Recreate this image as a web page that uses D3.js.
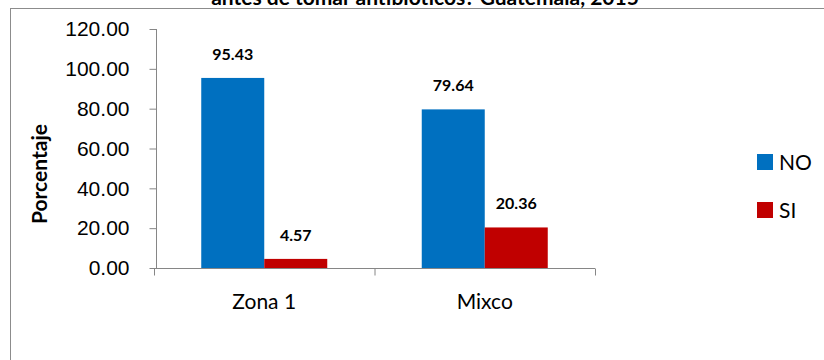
<!DOCTYPE html>
<html>
<head>
<meta charset="utf-8">
<script src="https://cdn.jsdelivr.net/npm/d3@7"></script>
<style>
  body { margin: 0; background: #fff; }
  svg { display: block; font-family: Lato, "Open Sans", sans-serif; }
</style>
</head>
<body>
<svg id="chart" width="824" height="360"></svg>
<script>
var categories = ["Zona 1", "Mixco"];
var series = ["NO", "SI"];
var noValues = [95.43, 79.64];
var siValues = [4.57, 20.36];
var yTicks = [0, 20, 40, 60, 80, 100, 120];
var title = "antes de tomar antibióticos? Guatemala, 2015";

var colors = { NO: "#0070C0", SI: "#C00000" };
var axisColor = "#868686";

var svg = d3.select("#chart");

// chart frame (runs off the right and bottom edges, as in the original)
svg.append("rect")
  .attr("x", 10.5).attr("y", 8.5)
  .attr("width", 900).attr("height", 400)
  .attr("fill", "none")
  .attr("stroke", "#8c8c8c");

// title is clipped by the top edge in the original too
svg.append("text")
  .attr("x", 425).attr("y", 5)
  .attr("text-anchor", "middle")
  .style("font-weight", "bold")
  .style("font-size", "21px")
  .text(title);

var x0 = d3.scaleBand().domain(categories).range([154, 595]);
var x1 = d3.scaleBand().domain(series).range([0, 126]);
var y = d3.scaleLinear().domain([0, 120]).range([268, 29]);

// y axis
var yAxis = svg.append("g")
  .attr("transform", "translate(156.5,0)")
  .call(d3.axisLeft(y).tickValues(yTicks).tickSize(7).tickPadding(20)
    .tickFormat(d3.format(".2f")));
yAxis.selectAll("path, line").attr("stroke", axisColor);
yAxis.selectAll("text").style("font-size", "21px").attr("fill", "#000");
yAxis.select(".domain").attr("d", "M0," + y(120) + "V" + y(0));

// x axis
var xAxis = svg.append("g")
  .attr("transform", "translate(0,268.5)");
xAxis.append("line")
  .attr("x1", 150).attr("x2", x0.range()[1])
  .attr("stroke", axisColor);
xAxis.selectAll(".xt")
  .data([x0.range()[0]].concat(categories.map(function (c) { return x0(c) + x0.bandwidth(); })))
  .enter().append("line")
  .attr("x1", function (d) { return d + 0.5; })
  .attr("x2", function (d) { return d + 0.5; })
  .attr("y1", 0).attr("y2", 7)
  .attr("stroke", axisColor);
xAxis.selectAll(".xl")
  .data(categories)
  .enter().append("text")
  .attr("x", function (d) { return x0(d) + x0.bandwidth() / 2; })
  .attr("y", 40)
  .attr("text-anchor", "middle")
  .style("font-size", "21px")
  .text(function (d) { return d; });

// bars
var rows = categories.map(function (c, i) {
  return { cat: c, vals: [{ s: "NO", v: noValues[i] }, { s: "SI", v: siValues[i] }] };
});

var groups = svg.selectAll(".grp")
  .data(rows)
  .enter().append("g")
  .attr("transform", function (d) {
    return "translate(" + (x0(d.cat) + (x0.bandwidth() - 126) / 2) + ",0)";
  });

groups.selectAll("rect")
  .data(function (d) { return d.vals; })
  .enter().append("rect")
  .attr("x", function (d) { return x1(d.s); })
  .attr("width", x1.bandwidth())
  .attr("y", function (d) { return y(d.v); })
  .attr("height", function (d) { return y(0) - y(d.v); })
  .attr("fill", function (d) { return colors[d.s]; });

groups.selectAll(".lbl")
  .data(function (d) { return d.vals; })
  .enter().append("text")
  .attr("x", function (d) { return x1(d.s) + x1.bandwidth() / 2; })
  .attr("y", function (d) { return y(d.v) - 18; })
  .attr("text-anchor", "middle")
  .style("font-weight", "bold")
  .style("font-size", "16px")
  .text(function (d) { return d3.format(".2f")(d.v); });

// y title
svg.append("text")
  .attr("transform", "translate(47,174) rotate(-90)")
  .attr("text-anchor", "middle")
  .style("font-weight", "bold")
  .style("font-size", "21px")
  .text("Porcentaje");

// legend
var legend = svg.selectAll(".leg")
  .data(series)
  .enter().append("g")
  .attr("transform", function (d, i) { return "translate(757," + (154 + i * 48) + ")"; });
legend.append("rect")
  .attr("width", 16).attr("height", 16)
  .attr("fill", function (d) { return colors[d]; });
legend.append("text")
  .attr("x", 22).attr("y", 16)
  .style("font-size", "21px")
  .text(function (d) { return d; });
</script>
</body>
</html>
